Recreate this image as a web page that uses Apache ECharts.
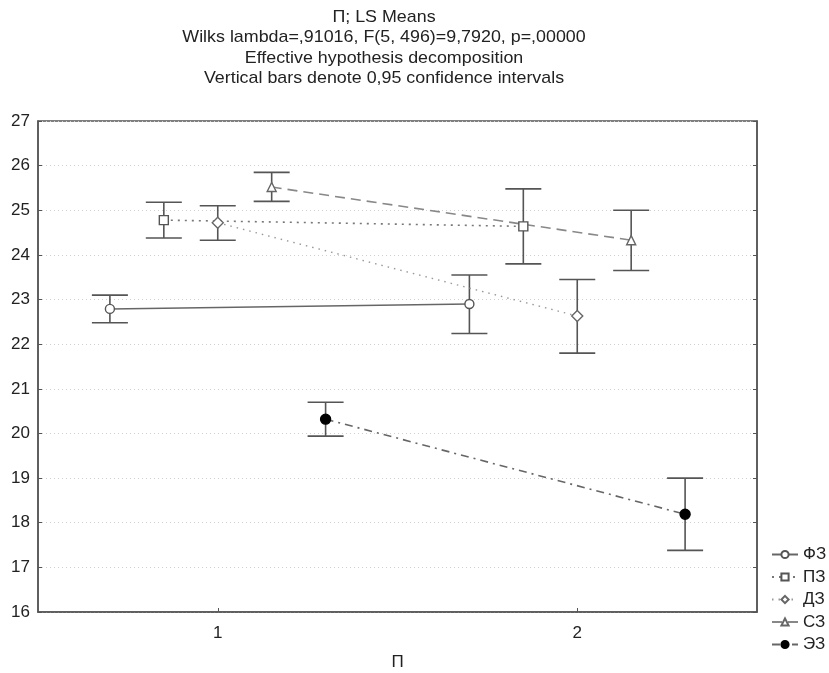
<!DOCTYPE html>
<html>
<head>
<meta charset="utf-8">
<script src="https://cdn.jsdelivr.net/npm/echarts@6/dist/echarts.min.js"></script>
<style>
  html, body { margin: 0; padding: 0; background: #fff; }
  #chart { width: 829px; height: 673px; }
</style>
</head>
<body>
<div id="chart"></div>
<script>
// Groups and factor levels
const groups = ['ФЗ', 'ПЗ', 'ДЗ', 'СЗ', 'ЭЗ'];
const levels = [1, 2];

// LS means per group, one value per level of П
const meansFZ = [22.79, 22.90];
const meansPZ = [24.78, 24.64];
const meansDZ = [24.72, 22.63];
const meansSZ = [25.52, 24.33];
const meansEZ = [20.32, 18.19];

// 0.95 confidence limits
const lowerFZ = [22.48, 22.24];
const upperFZ = [23.10, 23.55];
const lowerPZ = [24.38, 23.80];
const upperPZ = [25.18, 25.48];
const lowerDZ = [24.33, 21.80];
const upperDZ = [25.10, 23.45];
const lowerSZ = [25.20, 23.65];
const upperSZ = [25.85, 25.00];
const lowerEZ = [19.94, 17.38];
const upperEZ = [20.70, 19.00];

const yTicks = [16, 17, 18, 19, 20, 21, 22, 23, 24, 25, 26, 27];
const xTicks = [1, 2];

const titleLines = [
  'П; LS Means',
  'Wilks lambda=,91016, F(5, 496)=9,7920, p=,00000',
  'Effective hypothesis decomposition',
  'Vertical bars denote 0,95 confidence intervals'
];

const means = [meansFZ, meansPZ, meansDZ, meansSZ, meansEZ];
const lowers = [lowerFZ, lowerPZ, lowerDZ, lowerSZ, lowerEZ];
const uppers = [upperFZ, upperPZ, upperDZ, upperSZ, upperEZ];

// horizontal dodge so the groups don't overlap at each level
const dodgeStep = 0.15;
const dodge = i => (i - (groups.length - 1) / 2) * dodgeStep;

const styles = [
  { symbol: 'circle',   size: 9, fill: '#fff', border: '#555', line: '#666', type: 'solid',   width: 1.5 },
  { symbol: 'rect',     size: 9, fill: '#fff', border: '#555', line: '#777', type: [2, 5],    width: 1.6 },
  { symbol: 'diamond',  size: 11, fill: '#fff', border: '#666', line: '#999', type: [1.5, 5], width: 1.4 },
  { symbol: 'triangle', size: 9, fill: '#fff', border: '#666', line: '#888', type: [10, 6],   width: 1.6 },
  { symbol: 'circle',   size: 10, fill: '#000', border: '#000', line: '#666', type: [8, 5, 2, 5], width: 1.6 }
];

const series = [];
groups.forEach((g, i) => {
  const st = styles[i];
  series.push({
    name: g,
    type: 'line',
    data: levels.map((lv, k) => [lv + dodge(i), means[i][k]]),
    symbol: st.symbol,
    symbolSize: st.size,
    showAllSymbol: true,
    lineStyle: { color: st.line, width: st.width, type: st.type },
    itemStyle: { color: st.fill, borderColor: st.border, borderWidth: 1.4 },
    z: 4,
    animation: false
  });
});

// confidence-interval whiskers
const ciData = [];
groups.forEach((g, i) => {
  levels.forEach((lv, k) => {
    ciData.push([lv + dodge(i), lowers[i][k], uppers[i][k]]);
  });
});
series.push({
  type: 'custom',
  name: 'ci',
  data: ciData,
  encode: { x: 0, y: [1, 2] },
  z: 3,
  animation: false,
  renderItem: function (params, api) {
    const x = api.value(0);
    const lo = api.coord([x, api.value(1)]);
    const hi = api.coord([x, api.value(2)]);
    const half = 18;
    const style = { stroke: '#555', lineWidth: 1.6 };
    return {
      type: 'group',
      children: [
        { type: 'line', shape: { x1: lo[0], y1: lo[1], x2: hi[0], y2: hi[1] }, style },
        { type: 'line', shape: { x1: lo[0] - half, y1: lo[1], x2: lo[0] + half, y2: lo[1] }, style },
        { type: 'line', shape: { x1: hi[0] - half, y1: hi[1], x2: hi[0] + half, y2: hi[1] }, style }
      ]
    };
  }
});

const font = 'Liberation Sans, Arial, sans-serif';

const chart = echarts.init(document.getElementById('chart'), null, { renderer: 'canvas' });
chart.setOption({
  backgroundColor: '#fff',
  animation: false,
  textStyle: { fontFamily: font },
  grid: {
    left: 38, right: 72, top: 121, bottom: 61,
    outerBoundsMode: 'none',
    containLabel: false,
    show: true, borderColor: '#555', borderWidth: 1.5, backgroundColor: 'transparent'
  },
  graphic: titleLines.map((t, i) => ({
    type: 'text',
    x: 384,
    y: 17 + i * 20.6,
    scaleX: 1.05,
    style: {
      text: t,
      font: '17px ' + font,
      fill: '#222',
      textAlign: 'center',
      textVerticalAlign: 'middle'
    }
  })),
  legend: {
    data: groups,
    orient: 'vertical',
    left: 766,
    top: 541,
    itemWidth: 26,
    itemHeight: 9,
    itemGap: 5.5,
    textStyle: { fontSize: 17, color: '#222', fontFamily: font, padding: [0, 0, 0, 0] },
    selectedMode: false
  },
  xAxis: {
    type: 'value',
    min: 0.5,
    max: 2.5,
    interval: 0.5,
    name: 'П',
    nameLocation: 'middle',
    nameGap: 42,
    nameTextStyle: { fontSize: 17, color: '#222', fontFamily: font },
    axisLine: { lineStyle: { color: '#555', width: 1.5 } },
    axisTick: { inside: true, length: 4, customValues: xTicks, lineStyle: { color: '#555' } },
    axisLabel: { customValues: xTicks, fontSize: 17, color: '#222', margin: 13, fontFamily: font },
    splitLine: { show: false }
  },
  yAxis: [{
    type: 'value',
    min: 16,
    max: 27,
    interval: 1,
    axisLine: { show: true, lineStyle: { color: '#555', width: 1.5 } },
    axisTick: { show: true, inside: true, length: 4, lineStyle: { color: '#555' } },
    axisLabel: {
      fontSize: 17, color: '#222', margin: 8, fontFamily: font,
      formatter: v => (yTicks.indexOf(v) >= 0 ? String(v) : '')
    },
    splitLine: { show: true, lineStyle: { color: '#d0d0d0', type: [1, 3], width: 1 } }
  }, {
    type: 'value',
    min: 16,
    max: 27,
    interval: 1,
    position: 'right',
    axisLine: { show: true, lineStyle: { color: '#555', width: 1.5 } },
    axisTick: { show: true, inside: true, length: 4, lineStyle: { color: '#555' } },
    axisLabel: { show: false },
    splitLine: { show: false }
  }],
  series: series
});
</script>
</body>
</html>
